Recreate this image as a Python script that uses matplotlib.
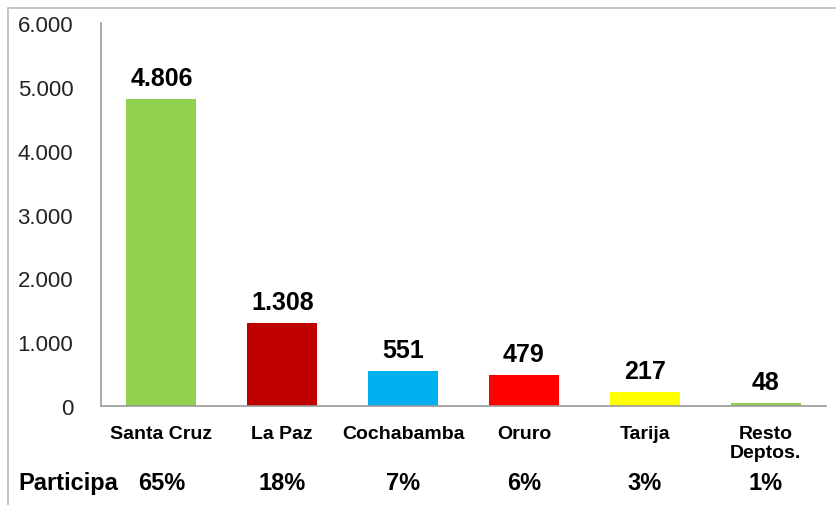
import matplotlib.pyplot as plt
import matplotlib.transforms as mtransforms
from matplotlib.patches import Rectangle

categories = ['Santa Cruz', 'La Paz', 'Cochabamba', 'Oruro', 'Tarija', 'Resto\nDeptos.']
values = [4806, 1308, 551, 479, 217, 48]
shares = ['65%', '18%', '7%', '6%', '3%', '1%']
colors = ['#92D050', '#C00000', '#00B0F0', '#FF0000', '#FFFF00', '#92D050']

narrow = ['Liberation Sans Narrow', 'Liberation Sans', 'DejaVu Sans']
plt.rcParams['font.family'] = ['Liberation Sans', 'DejaVu Sans']

fig = plt.figure(figsize=(8.36, 5.06), dpi=100)
fig.patches.append(Rectangle((8 / 836, -0.1), 1.2, 1 - 9 / 506 + 0.1, transform=fig.transFigure,
                             fill=False, edgecolor='#bbbbbb', linewidth=1.2))
ax = fig.add_axes([101 / 836, 1 - 407 / 506, 725 / 836, 383 / 506])

x = range(len(categories))
ax.bar(x, values, width=0.58, color=colors)
for i, v in enumerate(values):
    ax.text(i, v + 140, f'{v:,}'.replace(',', '.'), ha='center', va='bottom',
            fontsize=18, fontweight='bold')

ax.set_xlim(-0.5, len(categories) - 0.5)
ax.set_ylim(0, 6000)
ax.set_yticks(range(0, 6001, 1000))
ax.set_yticklabels([f'{t:,}'.replace(',', '.') for t in range(0, 6001, 1000)], fontsize=16, color='#222222')
ax.set_xticks(list(x))
ax.set_xticklabels(categories, fontsize=14, fontweight='bold', family=narrow, linespacing=1.1, va='top')
ax.tick_params(axis='y', length=0, pad=20)
ax.tick_params(axis='x', length=0, pad=14)
for s in ['top', 'right']:
    ax.spines[s].set_visible(False)
for s in ['left', 'bottom']:
    ax.spines[s].set_color('#999999')
    ax.spines[s].set_linewidth(1.2)

trans = mtransforms.blended_transform_factory(ax.transData, fig.transFigure)
fig.text(18 / 836, 1 - 484 / 506, 'Participa', ha='left', va='center',
         fontsize=17, fontweight='bold', family=narrow)
for i, s in enumerate(shares):
    ax.text(i, 1 - 484 / 506, s, transform=trans, ha='center', va='center',
            fontsize=17, fontweight='bold', family=narrow)

fig.savefig('out.png', dpi=100)
